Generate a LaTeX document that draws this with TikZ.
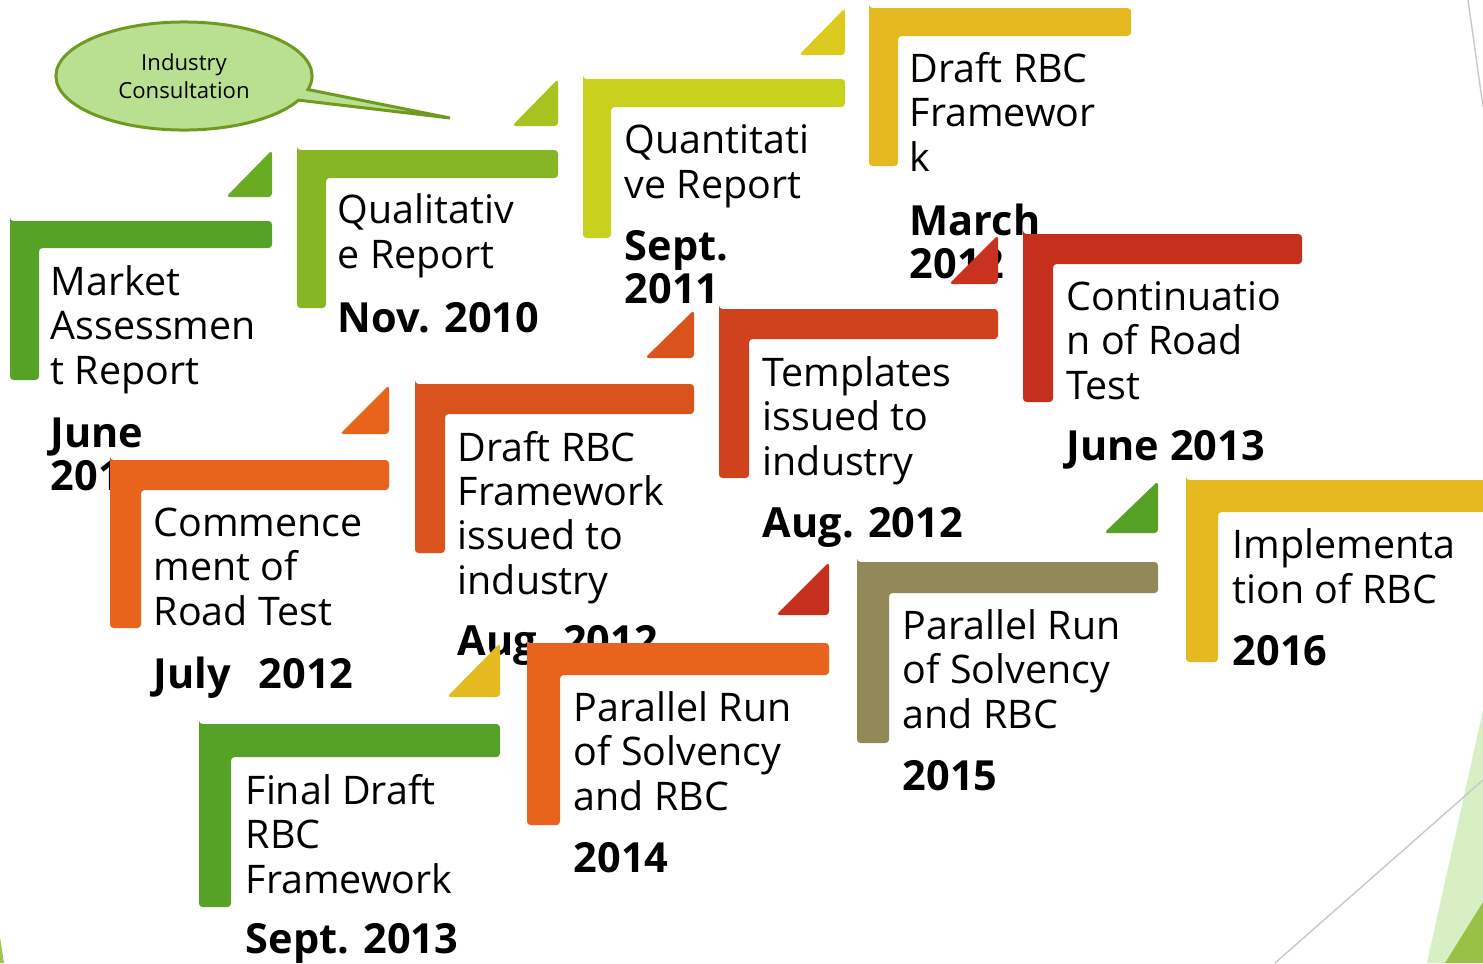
\documentclass[tikz,border=0pt]{standalone}
\usepackage{fontspec}
\setmainfont{Open Sans}
\usetikzlibrary{positioning}
\usetikzlibrary{shapes.callouts}
\definecolor{grnA}{HTML}{56A226}
\definecolor{triA}{HTML}{6AAB24}
\definecolor{grnB}{HTML}{86B624}
\definecolor{triB}{HTML}{A8C320}
\definecolor{limeC}{HTML}{C8D21E}
\definecolor{triC}{HTML}{DCCB1E}
\definecolor{gold}{HTML}{E5B920}
\definecolor{orngE}{HTML}{E8641C}
\definecolor{orngF}{HTML}{DA521C}
\definecolor{redG}{HTML}{D0421E}
\definecolor{triG}{HTML}{C9321E}
\definecolor{redH}{HTML}{C5301C}
\definecolor{khaki}{HTML}{938858}
\definecolor{callfill}{HTML}{B9E091}
\definecolor{callline}{HTML}{6E9A1E}
\definecolor{edgeline}{HTML}{C8C8C8}

\begin{document}
\begin{tikzpicture}[
            x = 0.01cm, y = -0.01cm, % one unit = one pixel, y downwards
            stepbar/.style = {rounded corners = 1pt},
            % base anchor sits on the last line
            steptext/.style = {anchor = base west, align = left, inner sep = 0pt,
                font = \fontsize{11.2}{12.6}\selectfont},
            stepdate/.style = {anchor = base west, align = left, inner sep = 0pt,
                font = \fontsize{11.8}{12.2}\selectfont\bfseries}
        ]

        \useasboundingbox (0,0) rectangle (1483,963);

        % slide decoration
        \fill[callfill!55] (1483,710) -- (1427,963) -- (1483,963) -- cycle;
        \fill[grnB!85!white] (1483,902) -- (1445,963) -- (1483,963) -- cycle;
        \fill[grnB!80!white] (0,937) -- (4,963) -- (0,963) -- cycle;
        \draw[edgeline, line width = 0.4pt] (1275,963) -- (1483,780);
        \draw[edgeline, line width = 0.4pt] (1468,0) -- (1483,107);

        % callout
        \node[ellipse callout, draw = callline, fill = callfill, line width = 0.85pt,
            minimum width = 2.56cm, minimum height = 1.08cm,
            callout absolute pointer = {(450,118)}, callout pointer arc = 12,
            align = center, font = \fontsize{6.3}{8}\selectfont] (cons) at (184,76) {Industry\\Consultation};

        % first row
        \fill[grnA, stepbar] (10,221) -| (272,248) -| (39,380) -| cycle;
        \fill[triA, stepbar] (226,197) -- (272,197) -- (272,150) -- cycle;
        \node[steptext] (mkt) at (50,384) {Market\\Assessmen\\t Report};
        \node[stepdate] (mktdate) at (50,490) {June\\2010};

        \fill[grnB, stepbar] (297,150) -| (558,178) -| (326,308) -| cycle;
        \fill[triB, stepbar] (512,126) -- (558,126) -- (558,79) -- cycle;
        \node[steptext] (qual) at (337,268) {Qualitativ\\e Report};
        \node[stepdate] (qualdate) at (337,332) {Nov. 2010};

        \fill[limeC, stepbar] (583,79) -| (845,107) -| (611,238) -| cycle;
        \fill[triC, stepbar] (799,55) -- (845,55) -- (845,8) -- cycle;
        \node[steptext] (quant) at (624,198) {Quantitati\\ve Report};
        \node[stepdate] (quantdate) at (624,303) {Sept.\\2011};

        \fill[gold, stepbar] (869,8) -| (1131,36) -| (898,166) -| cycle;
        \node[steptext] (draft) at (909,171) {Draft RBC\\Framewor\\k};
        \node[stepdate] (draftdate) at (909,278) {March\\2012};

        % second row
        \fill[orngE, stepbar] (110,460) -| (389,490) -| (141,628) -| cycle;
        \fill[orngE, stepbar] (340,434) -- (389,434) -- (389,385) -- cycle;
        \node[steptext] (road) at (153,625) {Commence\\ment of\\Road Test};
        \node[stepdate] (roaddate) at (153,688) {July~~\hspace{0.15em}2012};

        \fill[orngF, stepbar] (415,384) -| (694,414) -| (445,553) -| cycle;
        \fill[orngF, stepbar] (645,358) -- (694,358) -- (694,310) -- cycle;
        \node[steptext] (issued) at (457,594) {Draft RBC\\Framework\\issued to\\industry};
        \node[stepdate] (issueddate) at (457,655) {Aug. 2012};

        \fill[redG, stepbar] (719,309) -| (998,339) -| (749,478) -| cycle;
        \fill[triG, stepbar] (949,284) -- (998,284) -- (998,235) -- cycle;
        \node[steptext] (tmpl) at (762,475) {Templates\\issued to\\industry};
        \node[stepdate] (tmpldate) at (762,537) {Aug. 2012};

        \fill[redH, stepbar] (1023,234) -| (1302,264) -| (1053,402) -| cycle;
        \node[steptext] (cont) at (1066,399) {Continuatio\\n of Road\\Test};
        \node[stepdate] (contdate) at (1066,460) {June 2013};

        % third row
        \fill[grnA, stepbar] (199,724) -| (500,757) -| (231,907) -| cycle;
        \fill[gold, stepbar] (447,697) -- (500,697) -- (500,643) -- cycle;
        \node[steptext] (final) at (245,893) {Final Draft\\RBC\\Framework};
        \node[stepdate] (finaldate) at (245,953) {Sept. 2013};

        \fill[orngE, stepbar] (527,643) -| (829,675) -| (560,825) -| cycle;
        \fill[redH, stepbar] (776,615) -- (829,615) -- (829,562) -- cycle;
        \node[steptext] (para) at (573,810) {Parallel Run\\of Solvency\\and RBC};
        \node[stepdate] (paradate) at (573,872) {2014};

        \fill[khaki, stepbar] (857,562) -| (1158,593) -| (889,743) -| cycle;
        \fill[grnA, stepbar] (1104,533) -- (1158,533) -- (1158,481) -- cycle;
        \node[steptext] (parb) at (902,728) {Parallel Run\\of Solvency\\and RBC};
        \node[stepdate] (parbdate) at (902,790) {2015};

        \fill[gold, stepbar] (1186,480) -| (1495,512) -| (1218,662) -| cycle;
        \node[steptext] (impl) at (1232,603) {Implementa\\tion of RBC};
        \node[stepdate] (impldate) at (1232,665) {2016};

\end{tikzpicture}
\end{document}
